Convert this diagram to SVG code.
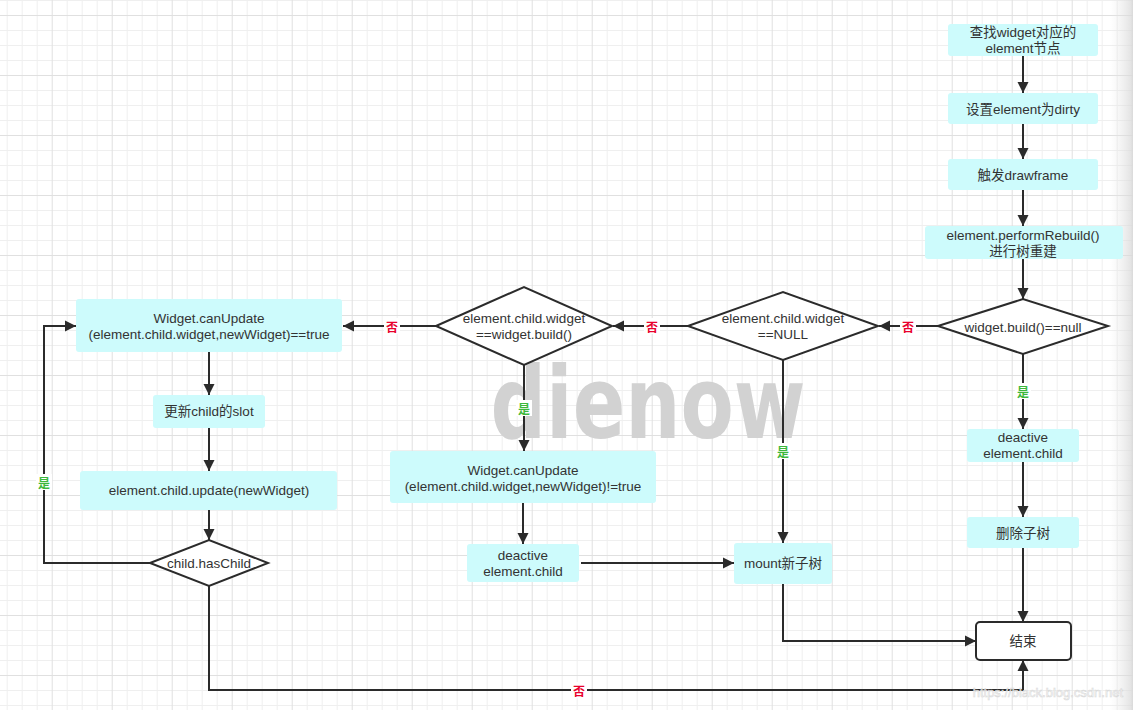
<svg xmlns="http://www.w3.org/2000/svg" width="1133" height="710" viewBox="0 0 1133 710">
<defs>
<pattern id="grid" patternUnits="userSpaceOnUse" x="-8.3" y="15" width="60" height="60">
<rect width="60" height="60" fill="#ffffff"/>
<g fill="#efefef">
<rect x="15" y="0" width="1" height="60"/><rect x="30" y="0" width="1" height="60"/><rect x="45" y="0" width="1" height="60"/>
<rect x="0" y="15" width="60" height="1"/><rect x="0" y="30" width="60" height="1"/><rect x="0" y="45" width="60" height="1"/>
</g>
<g fill="#e0e0e0"><rect x="0" y="0" width="1" height="60"/><rect x="0" y="0" width="60" height="1"/></g>
</pattern>
<linearGradient id="edge" x1="0" y1="0" x2="1" y2="0">
<stop offset="0" stop-color="#e8e8e8" stop-opacity="0"/>
<stop offset="1" stop-color="#d8d8d8" stop-opacity="0.8"/>
</linearGradient>
<marker id="arr" markerUnits="userSpaceOnUse" markerWidth="12" markerHeight="12" refX="11" refY="6" orient="auto">
<path d="M0,0.5 L11,6 L0,11.5 z" fill="#2b2b2b"/>
</marker>
<style>
.box{fill:#cdfbfc;stroke:none}
.dia{fill:#ffffff;stroke:#2b2b2b;stroke-width:2}
.end{fill:#ffffff;stroke:#2b2b2b;stroke-width:2}
.t{font-family:"Liberation Sans","Noto Sans CJK SC",sans-serif;font-size:13.5px;fill:#333333;text-anchor:middle;dominant-baseline:central}
.c{fill:none;stroke:#2b2b2b;stroke-width:2}
.lab{font-family:"Noto Sans CJK SC",sans-serif;font-size:12px;font-weight:bold;text-anchor:middle;dominant-baseline:central}
.no{fill:#e8002c}
.yes{fill:#3cb83c}
.lbg{fill:#ffffff}
</style>
</defs>
<rect width="1133" height="710" fill="url(#grid)"/>
<rect x="1110" y="0" width="23" height="710" fill="url(#edge)"/>
<text x="648" y="438" text-anchor="middle" font-family="DejaVu Sans, sans-serif" font-weight="bold" font-size="100" fill="#d2d2d2" textLength="315" lengthAdjust="spacingAndGlyphs">dienow</text>

<g id="connectors">
<path class="c" marker-end="url(#arr)" d="M1023,56 V93"/>
<path class="c" marker-end="url(#arr)" d="M1023,124 V159"/>
<path class="c" marker-end="url(#arr)" d="M1023,190 V226"/>
<path class="c" marker-end="url(#arr)" d="M1023,259 V299"/>
<path class="c" marker-end="url(#arr)" d="M938,326 H879"/>
<path class="c" marker-end="url(#arr)" d="M688,326 H613"/>
<path class="c" marker-end="url(#arr)" d="M436,326 H343"/>
<path class="c" marker-end="url(#arr)" d="M1023,354 V429"/>
<path class="c" marker-end="url(#arr)" d="M1023,462 V517"/>
<path class="c" marker-end="url(#arr)" d="M1023,548 V622"/>
<path class="c" marker-end="url(#arr)" d="M783,360 V543"/>
<path class="c" marker-end="url(#arr)" d="M524,365 V451"/>
<path class="c" marker-end="url(#arr)" d="M523,503 V544"/>
<path class="c" marker-end="url(#arr)" d="M581,563 H734"/>
<path class="c" marker-end="url(#arr)" d="M783,584 V641 H976"/>
<path class="c" marker-end="url(#arr)" d="M209,352 V395"/>
<path class="c" marker-end="url(#arr)" d="M209,428 V471"/>
<path class="c" marker-end="url(#arr)" d="M209,510 V540"/>
<path class="c" marker-end="url(#arr)" d="M150,563 H44 V326 H76"/>
<path class="c" marker-end="url(#arr)" d="M209,586 V690 H1023 V660"/>
<rect class="lbg" x="900" y="318" width="16" height="16"/><text class="lab no" x="908" y="326">否</text>
<rect class="lbg" x="644" y="318" width="16" height="16"/><text class="lab no" x="652" y="326">否</text>
<rect class="lbg" x="384" y="318" width="16" height="16"/><text class="lab no" x="392" y="326">否</text>
<rect class="lbg" x="571" y="682" width="16" height="16"/><text class="lab no" x="579" y="690">否</text>
<rect class="lbg" x="1015" y="383" width="16" height="16"/><text class="lab yes" x="1023" y="391">是</text>
<rect class="lbg" x="775" y="443" width="16" height="16"/><text class="lab yes" x="783" y="451">是</text>
<rect class="lbg" x="516" y="400" width="16" height="16"/><text class="lab yes" x="524" y="408">是</text>
<rect class="lbg" x="36" y="474" width="16" height="16"/><text class="lab yes" x="44" y="482">是</text>
</g>

<g id="n-find"><rect class="box" x="948" y="24" width="150" height="32" rx="3"/><text class="t" x="1023" y="32.5">查找widget对应的</text><text class="t" x="1023" y="48">element节点</text></g>
<g id="n-dirty"><rect class="box" x="948" y="93" width="150" height="31" rx="3"/><text class="t" x="1023" y="109">设置element为dirty</text></g>
<g id="n-draw"><rect class="box" x="948" y="159" width="150" height="31" rx="3"/><text class="t" x="1023" y="175">触发drawframe</text></g>
<g id="n-rebuild"><rect class="box" x="925" y="226" width="198" height="33" rx="3"/><text class="t" x="1023" y="235.5">element.performRebuild()</text><text class="t" x="1023" y="251">进行树重建</text></g>
<g id="d-null"><path class="dia" d="M938,326 L1023,299 L1108,326 L1023,354 Z"/><text class="t" x="1023" y="327">widget.build()==null</text></g>
<g id="d-childnull"><path class="dia" d="M688,326 L783,292 L878,326 L783,360 Z"/><text class="t" x="783" y="318">element.child.widget</text><text class="t" x="783" y="334">==NULL</text></g>
<g id="d-same"><path class="dia" d="M436,326 L524,287 L612,326 L524,365 Z"/><text class="t" x="524" y="318">element.child.widget</text><text class="t" x="524" y="334">==widget.build()</text></g>
<g id="n-canupdate"><rect class="box" x="76" y="299" width="266" height="53" rx="3"/><text class="t" x="209" y="318">Widget.canUpdate</text><text class="t" x="209" y="334">(element.child.widget,newWidget)==true</text></g>
<g id="n-slot"><rect class="box" x="153" y="395" width="112" height="33" rx="3"/><text class="t" x="209" y="411">更新child的slot</text></g>
<g id="n-update"><rect class="box" x="80" y="471" width="257" height="39" rx="3"/><text class="t" x="209" y="490">element.child.update(newWidget)</text></g>
<g id="d-haschild"><path class="dia" d="M150,563 L209,540 L268,563 L209,586 Z"/><text class="t" x="209" y="563">child.hasChild</text></g>
<g id="n-cannot"><rect class="box" x="390" y="451" width="266" height="52" rx="3"/><text class="t" x="523" y="470">Widget.canUpdate</text><text class="t" x="523" y="486">(element.child.widget,newWidget)!=true</text></g>
<g id="n-deact-mid"><rect class="box" x="467" y="544" width="112" height="38" rx="3"/><text class="t" x="523" y="555.5">deactive</text><text class="t" x="523" y="571">element.child</text></g>
<g id="n-mount"><rect class="box" x="734" y="543" width="98" height="41" rx="3"/><text class="t" x="783" y="563">mount新子树</text></g>
<g id="n-deact-right"><rect class="box" x="967" y="429" width="112" height="33" rx="3"/><text class="t" x="1023" y="437.5">deactive</text><text class="t" x="1023" y="453">element.child</text></g>
<g id="n-delete"><rect class="box" x="967" y="517" width="112" height="31" rx="3"/><text class="t" x="1023" y="533">删除子树</text></g>
<g id="n-end"><rect class="end" x="976" y="622" width="95" height="38" rx="4"/><text class="t" x="1023" y="641">结束</text></g>
<text x="1123" y="692" text-anchor="end" dominant-baseline="central" font-family="Liberation Sans, sans-serif" font-size="13" fill="#ffffff" stroke="#d6d6d6" stroke-width="0.6" opacity="0.9">https://black.blog.csdn.net</text>
</svg>
